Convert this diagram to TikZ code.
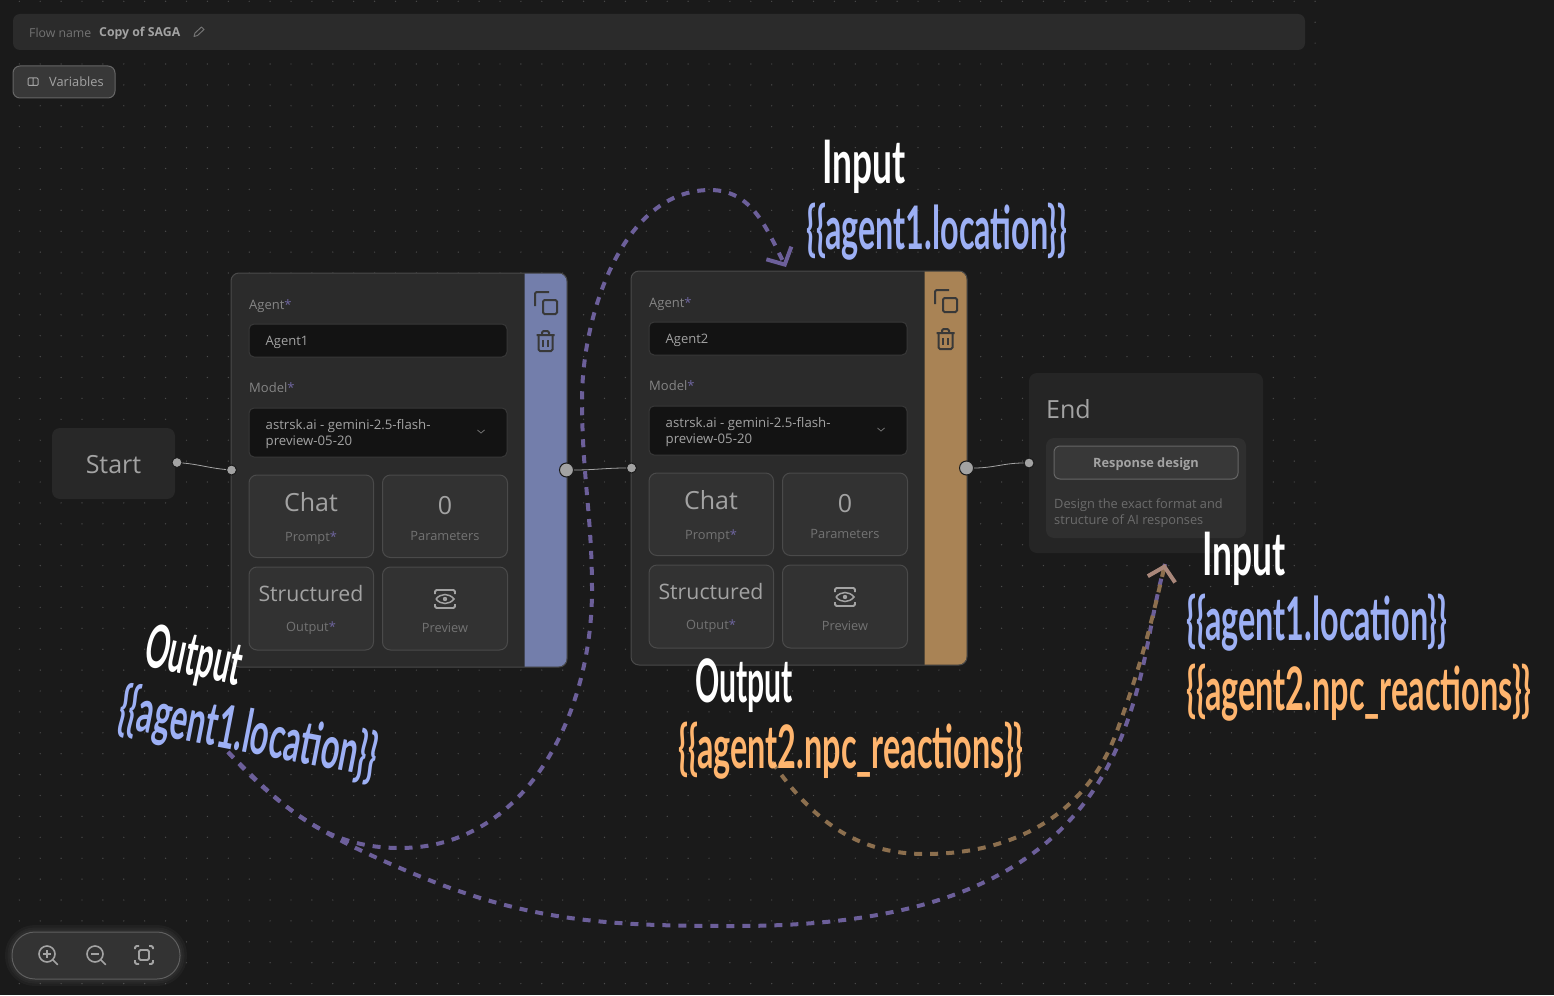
\documentclass[tikz,border=0pt]{standalone}
\usepackage{fontspec}
\setmainfont{Open Sans}
\newfontfamily\handfont[FakeStretch=0.54]{Lato}
\usetikzlibrary{arrows.meta}
\definecolor{bgc}{HTML}{1A1A1A}
\definecolor{cardc}{HTML}{2B2B2B}
\definecolor{edgec}{HTML}{4A4A4A}
\definecolor{fieldc}{HTML}{131313}
\definecolor{tilec}{HTML}{323232}
\definecolor{sideblue}{HTML}{737EAB}
\definecolor{sideamber}{HTML}{A98355}
\definecolor{flowpurple}{HTML}{6C5F9A}
\definecolor{flowbrown}{HTML}{8C6F4E}
\definecolor{tipbrown}{HTML}{A9877A}
\definecolor{handblue}{HTML}{9DB0F5}
\definecolor{handorange}{HTML}{FFB56E}
\definecolor{reqc}{HTML}{6F66A0}
\definecolor{dimc}{HTML}{737373}
\definecolor{labelc}{HTML}{858585}
\definecolor{softc}{HTML}{A3A3A3}
\definecolor{iconc}{HTML}{383838}
\newcommand{\reqmark}{\textcolor{reqc}{*}}
\newcommand{\px}[1]{\fontsize{#1}{#1}\selectfont}
\tikzset{
	box/.style={draw=edgec,line width=1pt,rounded corners=#1,anchor=north west,inner sep=0pt,outer sep=0pt},
	box/.default=8pt,
	lbl/.style={inner sep=0pt,anchor=west,text=labelc,font=\px{13}},
	mid/.style={inner sep=0pt,text=softc},
	port/.style={circle,draw=bgc,fill=softc,line width=1pt,inner sep=0pt,minimum size=#1},
	port/.default=11pt,
	wire/.style={draw=softc,line width=.8pt},
	flow/.style={line width=4pt,dash pattern=on 8pt off 8pt},
	hand/.style={inner sep=0pt,anchor=base west,font=\handfont\bfseries\px{60}},
	sketch/.style={line width=1.8pt,rounded corners=1.5pt},
	copyicon/.pic={
		\draw[sketch,line width=2pt,color=iconc] (-2,-11) rectangle (12,3);
		\draw[sketch,line width=2pt,color=iconc] (-10,-3) -- (-10,11) -- (4,11);},
	trashicon/.pic={
		\draw[sketch,line width=2pt,color=iconc] (-7,5) -- (-7,-10) -- (7,-10) -- (7,5);
		\draw[sketch,line width=2pt,color=iconc] (-9,6) -- (9,6) (-3.5,6) -- (-3.5,10) -- (3.5,10) -- (3.5,6);
		\draw[color=iconc,line width=1.8pt] (-2.3,1) -- (-2.3,-6) (2.3,1) -- (2.3,-6);},
	eyeicon/.pic={
		\draw[color=softc,line width=1.5pt] (-9,0) .. controls (-4,6) and (4,6) .. (9,0) .. controls (4,-6) and (-4,-6) .. (-9,0);
		\fill[softc] (0,0) circle (2.2);
		\draw[sketch,color=softc] (-10,5) -- (-10,9) -- (10,9) -- (10,5) (-10,-5) -- (-10,-9) -- (10,-9) -- (10,-5);},
	lensicon/.pic={
		\draw[color=softc,line width=1.6pt] (0,0) circle (8);
		\draw[color=softc,line width=1.6pt,line cap=round] (5.8,-5.8) -- (10.5,-10.5);},
}
\begin{document}
\begin{tikzpicture}[x=1pt,y=1pt]
	\useasboundingbox (0,0) rectangle (1554,-995);
	\fill[bgc] (0,0) rectangle (1554,-995);
	\fill[white!22!bgc] \foreach \i in {0,...,62}{\foreach \j in {0,...,47}{({19.3+20.9*\i},{-1.3-20.9*\j}) circle (.7)}};

	% top bar
	\node[box=7pt,draw=none,fill=cardc,minimum width=1292pt,minimum height=36pt] (bar) at (13,-14) {};
	\node[lbl,text=dimc,font=\px{12.3}] (flowname) at (29,-32.5) {Flow name};
	\node[lbl,text=softc,font=\px{12.3}\bfseries] (flowtitle) at (99,-33) {Copy of SAGA};
	\draw[color=dimc,line width=1pt,line join=round] (194,-36.5) -- (195,-33) -- (201.5,-27) -- (204,-29.5) -- (197.5,-35.5) -- cycle;
	\node[box=7pt,draw=white!33!bgc,fill=white!13!bgc,minimum width=102pt,minimum height=32pt] (variables) at (13,-66) {};
	\draw[color=softc,line width=1pt,rounded corners=1pt] (33,-78) -- (28,-78) -- (28,-85.5) -- (33,-85.5) -- (38,-85.5) -- (38,-78) -- cycle (33,-78) -- (33,-85.5);
	\node[lbl,text=softc,font=\px{12.8}] (variablestext) at (49,-82) {Variables};

	% start and end
	\node[box,draw=none,fill=white!6!bgc,minimum width=123pt,minimum height=71pt] (start) at (52,-428) {};
	\node[mid,font=\px{25}] (starttext) at (113.5,-464.5) {Start};
	\node[port=10pt] (startout) at (177,-462.5) {};
	\node[box,draw=none,fill=white!5!bgc,minimum width=234pt,minimum height=180pt] (end) at (1029,-373) {};
	\node[lbl,text=softc,font=\px{25}] (endtext) at (1046,-409) {End};
	\node[box,draw=none,fill=white!9!bgc,minimum width=200pt,minimum height=100pt] (endpanel) at (1046,-438) {};
	\node[box=6pt,draw=white!33!bgc,fill=white!13!bgc,minimum width=184pt,minimum height=33pt] (respbtn) at (1054,-446) {};
	\node[mid,font=\px{12.8}\bfseries] (resptext) at (1146,-464.5) {Response design};
	\node[lbl,text=white!36!bgc,align=left,font=\fontsize{12.8}{16}\selectfont,anchor=north west] (respdesc) at (1054,-499) {Design the exact format and\\structure of AI responses};
	\node[port=10pt] (endin) at (1029,-463) {};

	% agent cards
	\foreach \n/\dx/\dy/\side in {1/0/0/sideblue,2/400/2/sideamber}{
	\begin{scope}[shift={(\dx,\dy)}]
		\node[box,fill=cardc,minimum width=336pt,minimum height=394pt] (agent\n) at (231,-273) {};
		\fill[\side] (524.5,-273.5) [rounded corners=8pt] -- (566.5,-273.5) -- (566.5,-666.5) [sharp corners] -- (524.5,-666.5) -- cycle;
		\pic at (545,-303) {copyicon};
		\pic at (545.5,-341) {trashicon};
		\node[lbl] (agentlbl\n) at (249,-306.5) {Agent\reqmark};
		\node[box=5pt,fill=fieldc,draw=white!13!bgc,minimum width=258pt,minimum height=33pt] (agentfield\n) at (249,-324) {};
		\node[lbl,text=softc] (agentname\n) at (265.5,-342.5) {Agent\n};
		\node[lbl] (modellbl\n) at (249,-388) {Model\reqmark};
		\node[box=5pt,fill=fieldc,draw=white!13!bgc,minimum width=258pt,minimum height=49pt] (modelfield\n) at (249,-408) {};
		\node[lbl,text=softc,align=left,anchor=north west,font=\fontsize{13.2}{16}\selectfont] (modelname\n) at (265.5,-419) {astrsk.ai - gemini-2.5-flash-\\preview-05-20};
		\draw[color=dimc,line width=.8pt] (477.5,-430) -- (481,-433) -- (484.5,-430);
		\node[box,fill=tilec,minimum width=124.5pt,minimum height=82.5pt] (prompt\n) at (249,-475) {};
		\node[box,fill=tilec,minimum width=125pt,minimum height=82.5pt] (params\n) at (382.5,-475) {};
		\node[box,fill=tilec,minimum width=124.5pt,minimum height=83pt] (output\n) at (249,-567) {};
		\node[box,fill=tilec,minimum width=125pt,minimum height=83pt] (preview\n) at (382.5,-567) {};
		\node[mid,font=\px{25}] (prompttop\n) at (311,-502) {Chat};
		\node[mid,text=dimc,font=\px{12.8}] (promptlbl\n) at (311,-538.5) {Prompt\reqmark};
		\node[mid,font=\px{25}] (paramstop\n) at (445,-505.5) {0};
		\node[mid,text=dimc,font=\px{12.8}] (paramslbl\n) at (445,-536) {Parameters};
		\node[mid,font=\px{21.3}] (outputtop\n) at (311,-594) {Structured};
		\node[mid,text=dimc,font=\px{12.8}] (outputlbl\n) at (311,-628) {Output\reqmark};
		\pic at (445,-599) {eyeicon};
		\node[mid,text=dimc,font=\px{12.8}] (previewlbl\n) at (445,-628) {Preview};
		\node[port=10pt] (agentin\n) at (231.5,-470) {};
		\node[port=14pt] (agentout\n) at (566.5,-470) {};
	\end{scope}
	}

	\draw[wire] (startout) to[out=-5,in=175] (agentin1);
	\draw[wire] (agentout1) to[out=0,in=180] (agentin2);
	\draw[wire] (agentout2) to[out=0,in=180] (endin);

	% zoom controls
	\foreach \w in {14,9,5}{\draw[white,opacity=.03,line width=\w pt,rounded corners=23pt] (12,-932) rectangle (180,-979);}
	\node[box=23pt,draw=white!30!bgc,fill=white!11!bgc,minimum width=168pt,minimum height=47pt] (zoombar) at (12,-932) {};
	\pic at (47,-954) {lensicon};
	\pic at (95,-954) {lensicon};
	\draw[color=softc,line width=1.6pt] (43,-954) -- (51,-954) (47,-950) -- (47,-958) (91,-954) -- (99,-954);
	\draw[sketch,color=softc] (135,-949) -- (135,-946) -- (139,-946) (149,-946) -- (153,-946) -- (153,-949) (153,-960) -- (153,-964) -- (149,-964) (139,-964) -- (135,-964) -- (135,-960);
	\draw[sketch,color=softc] (139,-950) rectangle (149,-960);

	% hand notes
	\coordinate (srcone) at (228,-752);
	\coordinate (srctwo) at (772,-762);
	\coordinate (dstone) at (786,-267);
	\coordinate (dstend) at (1165,-564);
	\draw[flow,flowpurple,-{Straight Barb[length=13pt,width=28pt,line width=4pt]}] (srcone) to[out=-45,in=180] (400,-848) to[out=0,in=-90] (592,-590) to[out=90,in=-90] (582,-400) to[out=90,in=180,looseness=.9] (710,-190) to[out=0,in=117] (dstone);
	\draw[flow,flowpurple] (srcone) to[out=-48,in=157] (407,-871) to[out=-23,in=180] (735,-926) to[out=0,in=-111] (1123,-733) to[out=69,in=-105] (dstend);
	\draw[flow,flowbrown,-{Straight Barb[color=tipbrown,length=13pt,width=28pt,line width=4pt]}] (srctwo) to[out=-55,in=180] (925,-854) to[out=0,in=-110] (1117,-731) to[out=70,in=-103] (dstend);

	\node[hand,white,transform shape,xscale=1.09] (inputa) at (822,-183) {Input};
	\node[hand,handblue] (inputaval) at (806,-249) {\{\{agent1.location\}\}};
	\node[hand,white,transform shape,xscale=1.09] (inputb) at (1202,-575) {Input};
	\node[hand,handblue] (inputbval) at (1186,-640) {\{\{agent1.location\}\}};
	\node[hand,handorange] (inputbvalb) at (1186,-710) {\{\{agent2.npc\_reactions\}\}};
	\node[hand,white,rotate=-12,transform shape,xscale=.93] (outputa) at (142,-665) {Output};
	\node[hand,handblue,rotate=-11] (outputaval) at (116,-727) {\{\{agent1.location\}\}};
	\node[hand,white,transform shape,xscale=.93] (outputb) at (695,-702) {Output};
	\node[hand,handorange] (outputbval) at (678,-768) {\{\{agent2.npc\_reactions\}\}};
\end{tikzpicture}
\end{document}
